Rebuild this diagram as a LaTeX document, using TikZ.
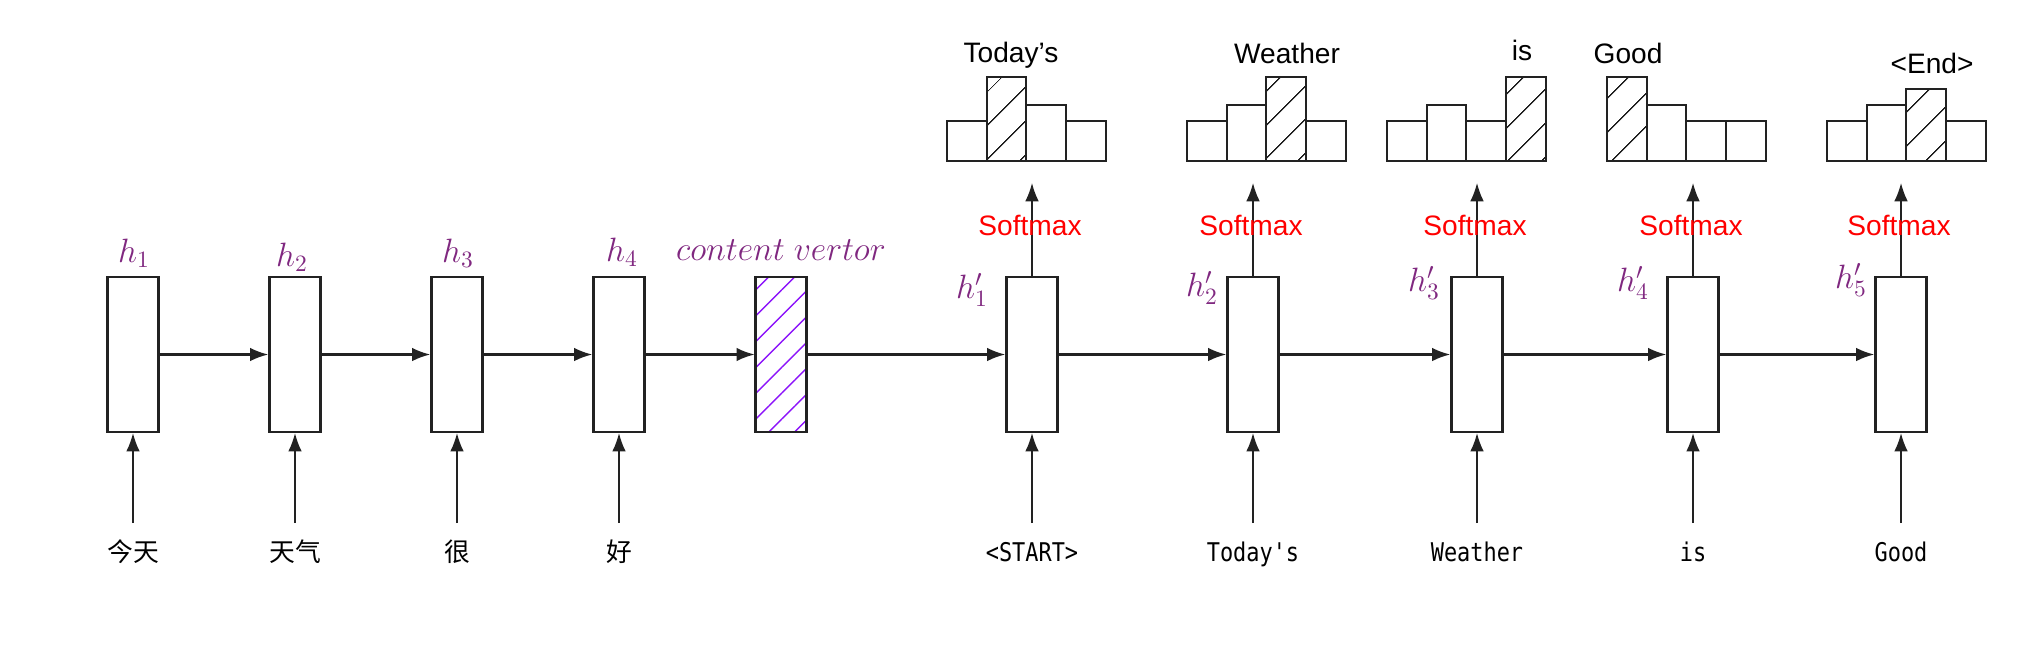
\documentclass[tikz,border=0pt]{standalone}
\usepackage{fontspec}
\setmainfont{Liberation Sans}
\newfontfamily\cnfont{Noto Sans CJK SC}
\newfontfamily\tokfont[FakeStretch=0.85]{DejaVu Sans Mono}
\usepackage{tikz}
\usetikzlibrary{arrows.meta,patterns.meta,positioning}
\definecolor{hpurple}{RGB}{128,40,128}
\definecolor{ctxviolet}{RGB}{140,20,250}
\definecolor{smred}{RGB}{255,0,0}
\definecolor{inkblack}{RGB}{34,34,34}
\tikzstyle{cell} = [rectangle, draw=inkblack, line width=0.95pt, minimum width=0.765cm, minimum height=2.325cm, inner sep=0pt]
\tikzstyle{context} = [cell, pattern={Lines[angle=45,distance=7.8pt,line width=0.6pt]}, pattern color=ctxviolet]
\tikzstyle{flow} = [line width=1pt, draw=inkblack, -{Latex[length=7.8pt,width=5.8pt]}]
\tikzstyle{feed} = [line width=0.65pt, draw=inkblack, -{Latex[length=7.8pt,width=5.8pt]}]
\tikzstyle{hlabel} = [text=hpurple, font=\fontsize{14}{16}\selectfont, inner sep=0pt]
\tikzstyle{bar} = [rectangle, draw=inkblack, line width=0.85pt, minimum width=0.5955cm, anchor=south west, inner sep=0pt, outer sep=0pt]
\tikzstyle{hbar} = [bar, pattern={Lines[angle=45,distance=10.5pt,line width=0.6pt]}, pattern color=inkblack]
\tikzstyle{word} = [font=\fontsize{12}{14}\selectfont, inner sep=0pt]
\tikzstyle{smax} = [word, text=smred]
\tikzstyle{token} = [font=\tokfont\fontsize{11}{13}\selectfont, inner sep=0pt, text height=0.27cm, text depth=0.07cm, outer ysep=0.31cm]
\tikzstyle{zh} = [token, font=\cnfont\fontsize{11}{13}\selectfont]

\begin{document}
\begin{tikzpicture}[x=0.015cm, y=-0.015cm]
\useasboundingbox (0,0) rectangle (2038,658);
% encoder
\node[cell] (e1) at (133,354.5) {};
\node[cell] (e2) at (295,354.5) {};
\node[cell] (e3) at (457,354.5) {};
\node[cell] (e4) at (619,354.5) {};
\node[context] (ctx) at (781,354.5) {};
\node[hlabel] (lh1) at (134,253) {$h_1$};
\node[hlabel] (lh2) at (292,257) {$h_2$};
\node[hlabel] (lh3) at (458,253) {$h_3$};
\node[hlabel] (lh4) at (622,252) {$h_4$};
\node[hlabel] (lctx) at (781,250) {$content\ vertor$};
\node[zh] (w1) at (133,555) {今天};
\node[zh] (w2) at (295,555) {天气};
\node[zh] (w3) at (457,555) {很};
\node[zh] (w4) at (619,555) {好};
\draw[flow] (e1) -- (e2);
\draw[flow] (e2) -- (e3);
\draw[flow] (e3) -- (e4);
\draw[flow] (e4) -- (ctx);
\draw[feed] (w1) -- (e1);
\draw[feed] (w2) -- (e2);
\draw[feed] (w3) -- (e3);
\draw[feed] (w4) -- (e4);

% decoder
\node[cell] (d1) at (1032,354.5) {};
\node[cell] (d2) at (1253,354.5) {};
\node[cell] (d3) at (1477,354.5) {};
\node[cell] (d4) at (1693,354.5) {};
\node[cell] (d5) at (1901,354.5) {};
\node[hlabel] (lg1) at (972,290) {$h'_1$};
\node[hlabel] (lg2) at (1202,288) {$h'_2$};
\node[hlabel] (lg3) at (1424,283) {$h'_3$};
\node[hlabel] (lg4) at (1633,283) {$h'_4$};
\node[hlabel] (lg5) at (1851,280) {$h'_5$};
\node[token] (t1) at (1032,555) {<START>};
\node[token] (t2) at (1253,555) {Today's};
\node[token] (t3) at (1477,555) {Weather};
\node[token] (t4) at (1693,555) {is};
\node[token] (t5) at (1901,555) {Good};
\draw[flow] (ctx) -- (d1);
\draw[flow] (d1) -- (d2);
\draw[flow] (d2) -- (d3);
\draw[flow] (d3) -- (d4);
\draw[flow] (d4) -- (d5);
\draw[feed] (t1) -- (d1);
\draw[feed] (t2) -- (d2);
\draw[feed] (t3) -- (d3);
\draw[feed] (t4) -- (d4);
\draw[feed] (t5) -- (d5);

% softmax outputs
\coordinate (s1) at (1032,183);
\coordinate (s2) at (1253,183);
\coordinate (s3) at (1477,183);
\coordinate (s4) at (1693,183);
\coordinate (s5) at (1901,183);
\draw[feed] (d1) -- (s1);
\draw[feed] (d2) -- (s2);
\draw[feed] (d3) -- (s3);
\draw[feed] (d4) -- (s4);
\draw[feed] (d5) -- (s5);
\node[smax] (sm1) at (1030,225) {Softmax};
\node[smax] (sm2) at (1251,225) {Softmax};
\node[smax] (sm3) at (1475,225) {Softmax};
\node[smax] (sm4) at (1691,225) {Softmax};
\node[smax] (sm5) at (1899,225) {Softmax};

% distributions
\node[bar, minimum height=0.605cm] (b11) at (947,161) {};
\node[hbar, minimum height=1.265cm] (b12) at (986.7,161) {};
\node[bar, minimum height=0.845cm] (b13) at (1026.4,161) {};
\node[bar, minimum height=0.605cm] (b14) at (1066.1,161) {};
\node[bar, minimum height=0.605cm] (b21) at (1187,161) {};
\node[bar, minimum height=0.845cm] (b22) at (1226.7,161) {};
\node[hbar, minimum height=1.265cm] (b23) at (1266.4,161) {};
\node[bar, minimum height=0.605cm] (b24) at (1306.1,161) {};
\node[bar, minimum height=0.605cm] (b31) at (1387,161) {};
\node[bar, minimum height=0.845cm] (b32) at (1426.7,161) {};
\node[bar, minimum height=0.605cm] (b33) at (1466.4,161) {};
\node[hbar, minimum height=1.265cm] (b34) at (1506.1,161) {};
\node[hbar, minimum height=1.265cm] (b41) at (1607,161) {};
\node[bar, minimum height=0.845cm] (b42) at (1646.7,161) {};
\node[bar, minimum height=0.605cm] (b43) at (1686.4,161) {};
\node[bar, minimum height=0.605cm] (b44) at (1726.1,161) {};
\node[bar, minimum height=0.605cm] (b51) at (1827,161) {};
\node[bar, minimum height=0.845cm] (b52) at (1866.7,161) {};
\node[hbar, minimum height=1.085cm] (b53) at (1906.4,161) {};
\node[bar, minimum height=0.605cm] (b54) at (1946.1,161) {};
\node[word] (o1) at (1011,55) {Today’s};
\node[word] (o2) at (1287,53) {Weather};
\node[word] (o3) at (1522,50) {is};
\node[word] (o4) at (1628,53) {Good};
\node[word] (o5) at (1932,63) {<End>};
\end{tikzpicture}
\end{document}
